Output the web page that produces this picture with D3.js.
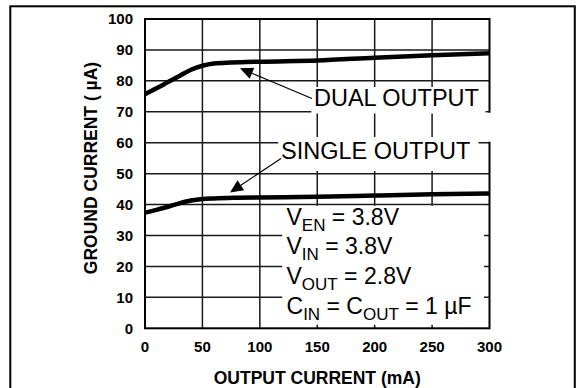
<!DOCTYPE html>
<html>
<head>
<meta charset="utf-8">
<script src="https://cdn.jsdelivr.net/npm/d3@7"></script>
<style>
  html, body { margin: 0; padding: 0; background: #fff; }
  svg { display: block; }
  text { font-family: "Liberation Sans", Arial, sans-serif; fill: #000; }
</style>
</head>
<body>
<svg id="chart" width="584" height="388"></svg>
<script>
// Output current (mA) sample points and ground current (µA) for each mode
const loadCurrent   = [0, 10, 20, 30, 40, 50, 60, 75, 100, 150, 200, 250, 300];
const dualOutput    = [75.7, 77.6, 79.6, 81.6, 83.6, 84.9, 85.6, 85.9, 86.2, 86.6, 87.5, 88.3, 88.9];
const singleLoad    = [0, 10, 20, 30, 40, 50, 60, 80, 100, 150, 200, 250, 300];
const singleOutput  = [37.4, 38.3, 39.3, 40.4, 41.3, 41.8, 42.0, 42.2, 42.3, 42.5, 42.9, 43.3, 43.6];
const xTicks = [0, 50, 100, 150, 200, 250, 300];
const yTicks = [0, 10, 20, 30, 40, 50, 60, 70, 80, 90, 100];

const svg = d3.select("#chart");
const W = 584, H = 388;
const plot = { left: 145, top: 19, right: 489.5, bottom: 328.3 };

svg.append("rect").attr("width", W).attr("height", H).attr("fill", "#fff");

// outer frame (runs off the bottom edge)
svg.append("rect")
  .attr("x", 10.3).attr("y", 6.3).attr("width", 564.5).attr("height", 420)
  .attr("fill", "none").attr("stroke", "#000").attr("stroke-width", 2);

const x = d3.scaleLinear().domain([0, 300]).range([plot.left, plot.right]);
const y = d3.scaleLinear().domain([0, 100]).range([plot.bottom, plot.top]);

// grid
const grid = svg.append("g").attr("stroke", "#1a1a1a").attr("stroke-width", 1.5);
grid.selectAll("line.v").data(xTicks.slice(1, -1)).join("line")
  .attr("x1", d => x(d)).attr("x2", d => x(d))
  .attr("y1", plot.top).attr("y2", plot.bottom);
grid.selectAll("line.h").data(yTicks.slice(1, -1)).join("line")
  .attr("x1", plot.left).attr("x2", plot.right)
  .attr("y1", d => y(d)).attr("y2", d => y(d));

// plot frame
svg.append("rect")
  .attr("x", plot.left).attr("y", plot.top)
  .attr("width", plot.right - plot.left).attr("height", plot.bottom - plot.top)
  .attr("fill", "none").attr("stroke", "#000").attr("stroke-width", 2);

// white label backgrounds
const masks = svg.append("g").attr("fill", "#fff");
masks.append("rect")   // DUAL OUTPUT
  .attr("x", x(144.8)).attr("y", 87)
  .attr("width", x(296.5) - x(144.8)).attr("height", 26.5);
masks.append("rect")   // SINGLE OUTPUT
  .attr("x", x(116)).attr("y", 137)
  .attr("width", x(290.4) - x(116)).attr("height", 34);
masks.append("rect")   // gap in the right frame between the two labels
  .attr("x", plot.right - 4).attr("y", y(70) + 1)
  .attr("width", 8).attr("height", y(60) - y(70) - 2);
masks.append("rect")   // test conditions
  .attr("x", x(119.5)).attr("y", y(40) + 1.2)
  .attr("width", x(295.2) - x(119.5)).attr("height", (y(0) - 3.5) - (y(40) + 1.2));

// curves
const line = d3.line().x(d => x(d[0])).y(d => y(d[1])).curve(d3.curveMonotoneX);
svg.append("path")
  .datum(loadCurrent.map((c, i) => [c, dualOutput[i]]))
  .attr("d", line).attr("fill", "none").attr("stroke", "#000")
  .attr("stroke-width", 4.5).attr("stroke-linecap", "butt");
svg.append("path")
  .datum(singleLoad.map((c, i) => [c, singleOutput[i]]))
  .attr("d", line).attr("fill", "none").attr("stroke", "#000")
  .attr("stroke-width", 4.5).attr("stroke-linecap", "butt");

// callout arrows
function arrow(x1, y1, tx, ty) {
  const dx = x1 - tx, dy = y1 - ty, len = Math.hypot(dx, dy);
  const ux = dx / len, uy = dy / len;
  const hl = 13, hw = 6;
  const bx = tx + ux * hl, by = ty + uy * hl;
  svg.append("line").attr("x1", x1).attr("y1", y1).attr("x2", bx).attr("y2", by)
    .attr("stroke", "#000").attr("stroke-width", 1.1);
  svg.append("path")
    .attr("d", `M${tx},${ty}L${bx - uy * hw},${by + ux * hw}L${bx + uy * hw},${by - ux * hw}Z`)
    .attr("fill", "#000");
}
arrow(312, 98.5, 240, 68.3);
arrow(281, 158.5, 230, 192.5);

// series labels
svg.append("text").attr("x", 314).attr("y", 106)
  .style("font-size", "23.5px").text("DUAL OUTPUT");
svg.append("text").attr("x", 281).attr("y", 159.3)
  .style("font-size", "23.5px").text("SINGLE OUTPUT");

// test conditions
const conds = [
  [["V", false], ["EN", true], [" = 3.8V", false]],
  [["V", false], ["IN", true], [" = 3.8V", false]],
  [["V", false], ["OUT", true], [" = 2.8V", false]],
  [["C", false], ["IN", true], [" = C", false], ["OUT", true], [" = 1 µF", false]]
];
conds.forEach((parts, i) => {
  const t = svg.append("text").attr("x", 286.5).attr("y", 224.5 + i * 29.7)
    .style("font-size", "23px");
  let shifted = false;
  parts.forEach(([s, sub]) => {
    const ts = t.append("tspan").text(s);
    if (sub) { ts.attr("dy", shifted ? 0 : 6).style("font-size", "17px"); shifted = true; }
    else { ts.attr("dy", shifted ? -6 : 0); shifted = false; }
  });
});

// tick labels
svg.append("g").selectAll("text").data(yTicks).join("text")
  .attr("x", 133).attr("y", d => y(d)).attr("dy", "0.36em")
  .attr("text-anchor", "end").style("font-size", "15px").style("font-weight", "bold")
  .text(d => d);
svg.append("g").selectAll("text").data(xTicks).join("text")
  .attr("x", d => x(d)).attr("y", 351.5)
  .attr("text-anchor", "middle").style("font-size", "15px").style("font-weight", "bold")
  .text(d => d);

// axis titles
svg.append("text").attr("x", (plot.left + plot.right) / 2).attr("y", 383.5)
  .attr("text-anchor", "middle").style("font-size", "17.5px").style("font-weight", "bold")
  .text("OUTPUT CURRENT (mA)");
svg.append("text")
  .attr("transform", "translate(97,168) rotate(-90)")
  .attr("text-anchor", "middle").style("font-size", "17.5px").style("font-weight", "bold")
  .text("GROUND CURRENT ( µA)");
</script>
</body>
</html>
